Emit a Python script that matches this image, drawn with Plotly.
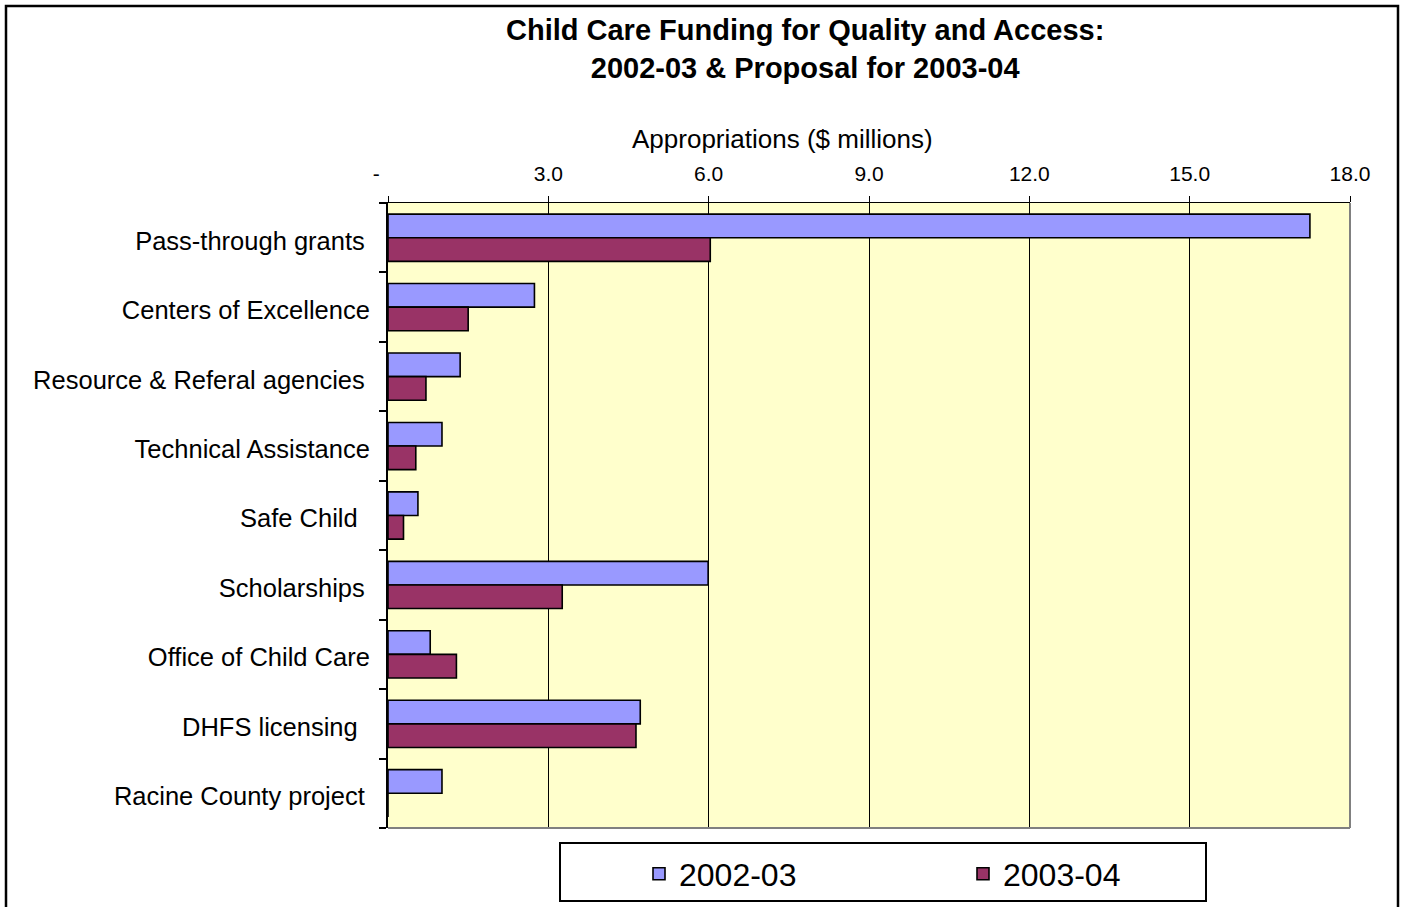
import plotly.graph_objects as go

# Programme areas, top to bottom
categories = [
    "Pass-through grants",
    "Centers of Excellence",
    "Resource & Referal agencies",
    "Technical Assistance",
    "Safe Child",
    "Scholarships",
    "Office of Child Care",
    "DHFS licensing",
    "Racine County project",
]
# Displayed axis labels (with the trailing padding used in the original sheet)
category_labels = [
    "Pass-through grants\u2009",
    "Centers of Excellence",
    "Resource & Referal agencies\u2009",
    "Technical Assistance",
    "Safe Child\u00a0\u2009",
    "Scholarships\u2009",
    "Office of Child Care",
    "DHFS licensing\u00a0\u2009",
    "Racine County project\u2009",
]

# Appropriations, $ millions
funding_2002_03 = [17.25, 2.74, 1.35, 1.01, 0.56, 5.99, 0.79, 4.72, 1.01]
funding_2003_04 = [6.03, 1.50, 0.71, 0.52, 0.29, 3.26, 1.28, 4.64, 0.0]

x_tickvals = [0, 3, 6, 9, 12, 15, 18]
x_ticktext = ["-\u00a0\u00a0\u00a0\u00a0", "3.0", "6.0", "9.0", "12.0", "15.0", "18.0"]

FONT = "Liberation Sans, Arial, sans-serif"

fig = go.Figure()
fig.add_trace(go.Bar(
    y=categories, x=funding_2002_03, name="2002-03", orientation="h",
    marker=dict(color="#9999FF", line=dict(color="black", width=1.6)),
))
fig.add_trace(go.Bar(
    y=categories, x=funding_2003_04, name="2003-04", orientation="h",
    marker=dict(color="#993366", line=dict(color="black", width=1.6)),
))

W, H = 1403, 907
L, R, T, B = 388, 53, 203, 79
pw, ph = W - L - R, H - T - B


def px_x(x):
    return (x - L) / pw


def px_y(y):
    return (H - B - y) / ph


fig.update_layout(
    width=W, height=H, autosize=False,
    margin=dict(l=L, r=R, t=T, b=B, pad=0, autoexpand=False),
    paper_bgcolor="white",
    plot_bgcolor="#FFFFCC",
    barmode="group",
    bargap=0.32,
    bargroupgap=0,
    font=dict(family=FONT, color="black"),
    showlegend=True,
    legend=dict(
        orientation="h",
        xref="container", yref="container",
        x=639 / W, xanchor="left",
        y=(H - 874) / H, yanchor="middle",
        font=dict(size=32, family=FONT),
        entrywidth=279, entrywidthmode="pixels",
        bgcolor="rgba(0,0,0,0)", borderwidth=0,
        traceorder="normal",
    ),
    xaxis=dict(
        side="top",
        range=[0, 18],
        automargin=False,
        tickmode="array", tickvals=x_tickvals, ticktext=x_ticktext,
        tickfont=dict(size=21, family=FONT),
        ticks="outside", ticklen=6, tickwidth=1.3, tickcolor="black",
        ticklabelstandoff=6,
        showline=True, linecolor="black", linewidth=1.3,
        showgrid=True, gridcolor="black", gridwidth=1,
        zeroline=False,
        fixedrange=True,
    ),
    yaxis=dict(
        type="category",
        autorange="reversed",
        automargin=False,
        tickmode="array", tickvals=categories, ticktext=category_labels,
        tickson="boundaries",
        tickfont=dict(size=25.5, family=FONT),
        ticks="outside", ticklen=7, tickwidth=2, tickcolor="black",
        ticklabelstandoff=11,
        ticklabelshift=-3,
        showline=True, linecolor="black", linewidth=2,
        showgrid=False, zeroline=False,
        fixedrange=True,
    ),
)

# Right and bottom edges of the plot area
fig.add_shape(type="line", xref="paper", yref="paper", x0=1, x1=1, y0=0, y1=1,
              line=dict(color="#808080", width=2), layer="above")
fig.add_shape(type="line", xref="paper", yref="paper", x0=0, x1=1, y0=0, y1=0,
              line=dict(color="#808080", width=2), layer="above")

# Legend frame
fig.add_shape(type="rect", xref="paper", yref="paper",
              x0=px_x(560), x1=px_x(1206), y0=px_y(901), y1=px_y(843),
              line=dict(color="black", width=2), fillcolor="rgba(0,0,0,0)")

# Outer chart frame
fig.add_shape(type="rect", xref="paper", yref="paper",
              x0=px_x(6), x1=px_x(1398), y0=px_y(915), y1=px_y(6),
              line=dict(color="black", width=2.5), fillcolor="rgba(0,0,0,0)")

# Chart title
fig.add_annotation(
    text="<b>Child Care Funding for Quality and Access:<br>2002-03 & Proposal for 2003-04</b>",
    xref="paper", yref="paper", x=px_x(805), y=px_y(49),
    xanchor="center", yanchor="middle", showarrow=False,
    font=dict(size=29, family=FONT), align="center",
)

# Value axis title
fig.add_annotation(
    text="Appropriations ($ millions)",
    xref="paper", yref="paper", x=px_x(782), y=px_y(139),
    xanchor="center", yanchor="middle", showarrow=False,
    font=dict(size=26, family=FONT),
)

fig.write_html("out.html")
